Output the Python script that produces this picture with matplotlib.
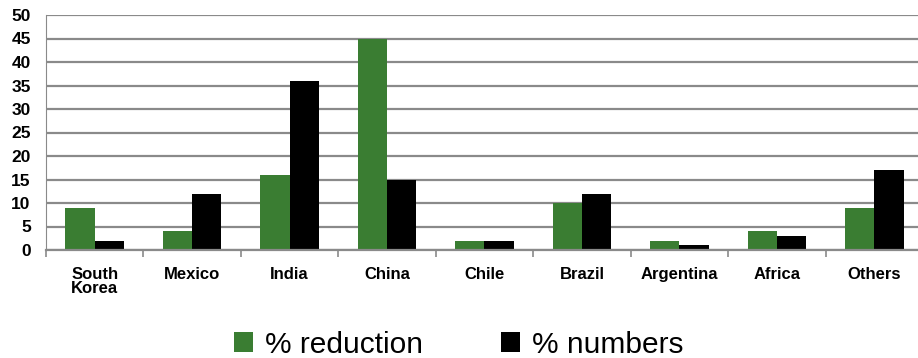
import numpy as np
import matplotlib.pyplot as plt

categories = ["South\nKorea", "Mexico", "India", "China", "Chile", "Brazil", "Argentina", "Africa", "Others"]
reduction = [9, 4, 16, 45, 2, 10, 2, 4, 9]
numbers = [2, 12, 36, 15, 2, 12, 1, 3, 17]

plt.rcParams['font.family'] = ['Liberation Sans', 'DejaVu Sans']

fig = plt.figure(figsize=(9.18, 3.58), dpi=100)
ax = fig.add_axes([46 / 918, 108 / 358, 877 / 918, 235 / 358])

x = np.arange(len(categories))
w = 0.3
ax.bar(x - w / 2, reduction, w, color="#3a7d32", label="% reduction")
ax.bar(x + w / 2, numbers, w, color="#000000", label="% numbers")

ax.set_xlim(-0.5, len(categories) - 0.5)
ax.set_ylim(0, 50)
ax.set_yticks(range(0, 51, 5))
ax.tick_params(axis="y", length=0, labelsize=12.5, pad=11)
for lbl in ax.get_yticklabels():
    lbl.set_fontweight("bold")
ax.grid(axis="y", color="#8a8a8a", linewidth=1.6)
ax.set_axisbelow(True)

# category labels in the middle, tick marks on the boundaries
ax.set_xticks(x)
ax.set_xticklabels(categories, fontsize=12, fontweight="bold", va="top", linespacing=0.95)
ax.tick_params(axis="x", which="major", length=0, pad=12)
ax.set_xticks(np.arange(-0.5, len(categories), 1), minor=True)
ax.tick_params(axis="x", which="minor", length=5, color="#8a8a8a", width=1.2)

for s in ["top", "right"]:
    ax.spines[s].set_visible(False)
ax.spines["left"].set_color("#8a8a8a")
ax.spines["bottom"].set_color("#8a8a8a")
ax.spines["bottom"].set_linewidth(1.6)

fig.legend(loc="lower center", bbox_to_anchor=(0.5, -0.06), ncol=2, frameon=False,
           fontsize=21.5, handlelength=0.64, handleheight=0.64, handletextpad=0.4,
           columnspacing=2.6, borderpad=0.2)

fig.savefig("out.png", dpi=100)
